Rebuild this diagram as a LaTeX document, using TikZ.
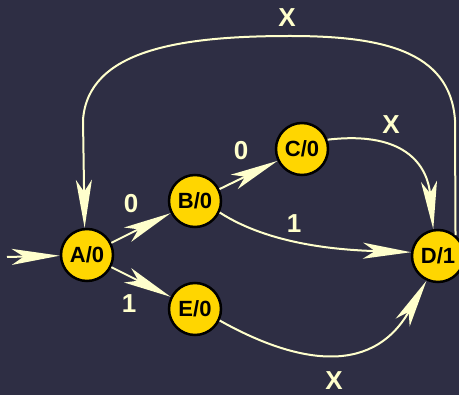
\documentclass[tikz,border=0pt]{standalone}
\usepackage{fontspec}
\setmainfont{Liberation Sans}
\usetikzlibrary{arrows.meta}
\definecolor{bg}{RGB}{46,46,68}
\definecolor{edge}{RGB}{255,255,204}
\definecolor{gold}{RGB}{255,214,0}
\begin{document}
\begin{tikzpicture}[x=1pt,y=-1pt,
  state/.style={circle,draw=black,line width=2.5pt,fill=gold,minimum size=52pt,inner sep=0pt,
    font=\fontsize{22}{22}\selectfont\bfseries,text=black},
  link/.style={draw=edge,line width=2pt,-{Stealth[length=48pt,width=16pt,inset=12pt,fill=edge]}},
  lab/.style={text=edge,font=\fontsize{26}{26}\selectfont\bfseries}]
\fill[bg] (0,0) rectangle (459,395);
\useasboundingbox (0,0) rectangle (459,395);
\node[state] (A) at (87,255) {A/0};
\node[state] (B) at (195,201) {B/0};
\node[state] (C) at (302,149) {C/0};
\node[state] (D) at (438,256) {D/1};
\node[state] (E) at (195,309) {E/0};
\coordinate (S) at (7,257);
\draw[link] (S) -- (A);
\draw[link] (A) -- (B);
\draw[link] (A) -- (E);
\draw[link] (B) -- (C);
\draw[link] (B.-25) .. controls (270,245) and (340,250) .. (D.172);
\draw[link] (C.20) .. controls (410,130) and (428,170) .. (D.100);
\draw[link] (E.-25) .. controls (290,360) and (370,380) .. (D.-115);
\draw[link] (D.50) -- (455,120) .. controls (450,50) and (380,36) .. (290,36)
   .. controls (180,36) and (88,50) .. (83,120) -- (A.95);
\node[lab] (l1) at (287,18) {X};
\node[lab] (l2) at (391,125) {X};
\node[lab] (l3) at (241,151) {0};
\node[lab] (l4) at (131,204) {0};
\node[lab] (l5) at (294,224) {1};
\node[lab] (l6) at (129,304) {1};
\node[lab] (l7) at (334,381) {X};
\end{tikzpicture}
\end{document}
